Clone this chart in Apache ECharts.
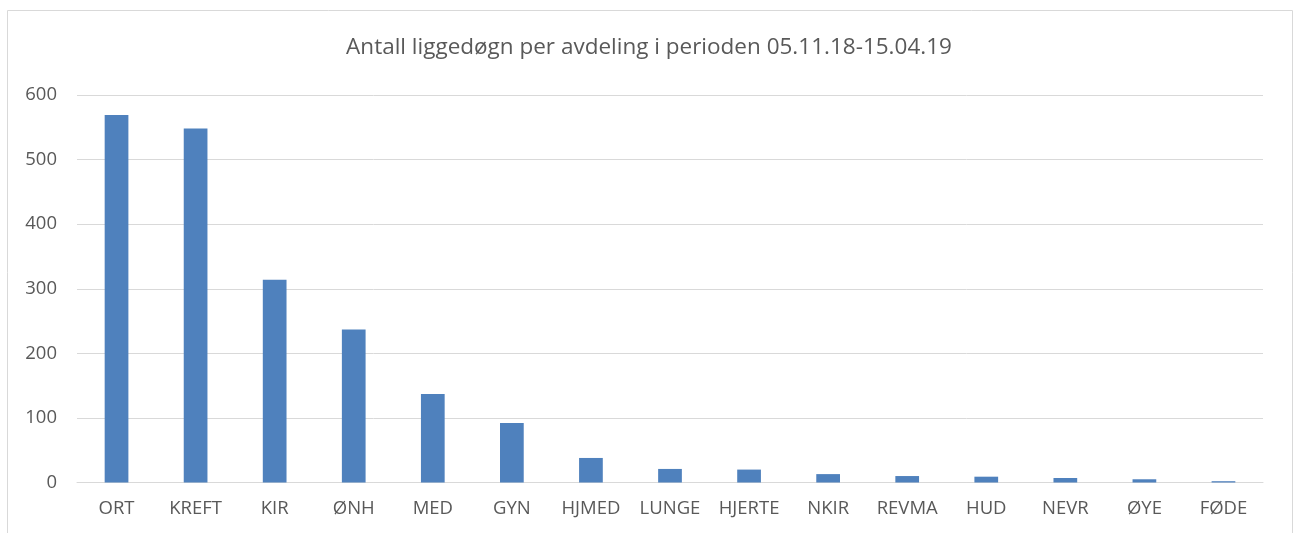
<!DOCTYPE html>
<html>
<head>
<meta charset="utf-8">
<script src="https://cdn.jsdelivr.net/npm/echarts@6/dist/echarts.min.js"></script>
<style>
  html, body { margin: 0; padding: 0; background: #fff; }
  #main { width: 1298px; height: 533px; }
</style>
</head>
<body>
<div id="main"></div>
<script>
var avdelinger = ['ORT', 'KREFT', 'KIR', 'ØNH', 'MED', 'GYN', 'HJMED', 'LUNGE', 'HJERTE', 'NKIR', 'REVMA', 'HUD', 'NEVR', 'ØYE', 'FØDE'];
var liggedogn = [569, 548, 314, 237, 137, 92, 38, 21, 20, 13, 10, 9, 7, 5, 2];

var chart = echarts.init(document.getElementById('main'));

var option = {
  animation: false,
  textStyle: { fontFamily: 'Open Sans' },
  title: {
    text: 'Antall liggedøgn per avdeling i perioden 05.11.18-15.04.19',
    left: 'center',
    top: 31,
    textStyle: { fontSize: 22.5, fontWeight: 'normal', color: '#595959', fontFamily: 'Open Sans' }
  },
  graphic: [{
    type: 'rect',
    shape: { x: 7.5, y: 10.5, width: 1285, height: 540 },
    style: { fill: 'none', stroke: '#d9d9d9', lineWidth: 1 },
    silent: true
  }],
  grid: { left: 77, right: 35, top: 95, bottom: 50.5 },
  xAxis: {
    type: 'category',
    data: avdelinger,
    axisLine: { lineStyle: { color: '#d9d9d9', width: 1 } },
    axisTick: { show: false },
    axisLabel: { color: '#595959', fontSize: 18.5, margin: 17, interval: 0 }
  },
  yAxis: {
    type: 'value',
    min: 0,
    max: 600,
    interval: 100,
    axisLine: { show: false },
    axisTick: { show: false },
    splitLine: { lineStyle: { color: '#d9d9d9', width: 1 } },
    axisLabel: { color: '#595959', fontSize: 18.5, margin: 20 }
  },
  series: [{
    type: 'bar',
    data: liggedogn,
    barWidth: '30%',
    itemStyle: { color: '#4f81bd' }
  }]
};

chart.setOption(option);
</script>
</body>
</html>
